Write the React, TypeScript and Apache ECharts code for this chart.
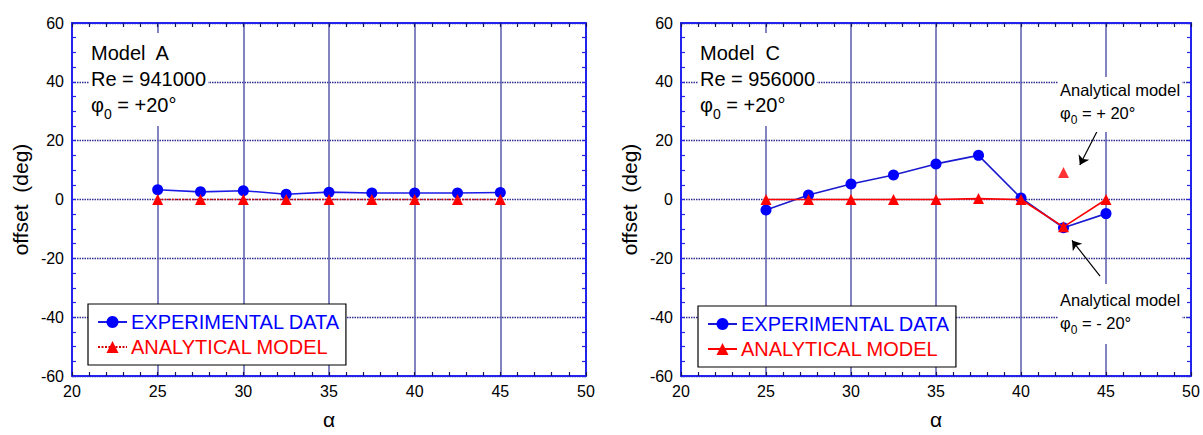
import React, { useEffect, useRef } from "react";
import * as echarts from "echarts";

const FONT = "'Liberation Sans', Arial, Helvetica, sans-serif";

// x values (angle of attack, alpha)
const alpha = [25, 27.5, 30, 32.5, 35, 37.5, 40, 42.5, 45];
// Model A
const expA = [3.3, 2.6, 3.0, 1.8, 2.5, 2.2, 2.2, 2.2, 2.4];
const modelA = [0, 0, 0, 0, 0, 0, 0, 0, 0];
// Model C
const expC = [-3.6, 1.5, 5.3, 8.3, 12.1, 15.0, 0.5, -9.6, -4.8];
const modelC = [0, 0, 0, 0, 0, 0.3, 0, -9.3, 0];
const modelCPlusAlpha = [42.5];
const modelCPlus = [9.2];

// annotation arrows (data space): [from, to]
const arrowUp = [[44.63, 24.9], [43.46, 11.7]];
const arrowDown = [[44.65, -26.05], [43.0, -13.9]];

const xTicks = { min: 20, max: 50, interval: 5 };
const yTicks = { min: -60, max: 60, interval: 20 };

const LEG_EXP = "EXPERIMENTAL DATA";
const LEG_MOD = "ANALYTICAL MODEL";

const BLUE = "#0000ff";
const RED = "#ff0000";
const BORDER = "#2323ee";

function pairs(xs: number[], ys: number[]) {
  return xs.map((x, i) => [x, ys[i]]);
}

function xAxisDef(gridIndex: number, position: "bottom" | "top") {
  const bottom = position === "bottom";
  return {
    type: "value",
    gridIndex,
    position,
    min: xTicks.min,
    max: xTicks.max,
    interval: xTicks.interval,
    axisLine: { show: true, onZero: false, lineStyle: { color: BORDER, width: 2 } },
    axisTick: { show: true, inside: true, length: 4, lineStyle: { color: "#15155a", width: 1.2 } },
    minorTick: { show: true, splitNumber: 5, length: 4, lineStyle: { color: "#15155a", width: 1.2 } },
    splitLine: bottom ? { show: true, lineStyle: { color: "#5a5aae", width: 1.5, type: "solid" } } : { show: false },
    axisLabel: bottom
      ? { show: true, fontSize: 16, color: "#000", margin: 7, fontFamily: FONT }
      : { show: false },
    name: bottom ? "α" : "",
    nameLocation: "middle",
    nameGap: 33,
    nameTextStyle: { fontSize: 21, color: "#000", fontFamily: FONT },
  };
}

function yAxisDef(gridIndex: number, position: "left" | "right") {
  const left = position === "left";
  return {
    type: "value",
    gridIndex,
    position,
    min: yTicks.min,
    max: yTicks.max,
    interval: yTicks.interval,
    axisLine: { show: true, onZero: false, lineStyle: { color: BORDER, width: 2 } },
    axisTick: { show: true, inside: true, length: 4, lineStyle: { color: BORDER, width: 1.2 } },
    minorTick: { show: true, splitNumber: 4, length: 4, lineStyle: { color: BORDER, width: 1.2 } },
    splitLine: left
      ? { show: true, lineStyle: { color: "#2d2d90", width: 1.4, type: [1.5, 1] } }
      : { show: false },
    axisLabel: left
      ? { show: true, fontSize: 16, color: "#000", margin: 8, fontFamily: FONT }
      : { show: false },
    name: left ? "offset  (deg)" : "",
    nameLocation: "middle",
    nameGap: 41,
    nameTextStyle: { fontSize: 21, color: "#000", fontFamily: FONT },
  };
}

function legendDef(left: number, top: number, suffix: string) {
  return {
    orient: "vertical",
    left,
    top,
    selectedMode: false,
    itemWidth: 29,
    itemHeight: 15,
    itemGap: 5,
    padding: [8, 6, 8, 9],
    borderColor: "#000",
    borderWidth: 1.2,
    backgroundColor: "#fff",
    formatter: (n: string) => n.split("|")[0],
    textStyle: { fontSize: 20, lineHeight: 20, fontFamily: FONT, padding: [0, 0, 0, -1] },
    data: [
      { name: LEG_EXP + "|" + suffix, textStyle: { color: BLUE } },
      { name: LEG_MOD + "|" + suffix, textStyle: { color: RED } },
    ],
  };
}

function note(x: number, y: number, lines: string[], size: number, lh: number, sub: number, pad: number[]) {
  const rich: any = {
    m: { fontSize: size, lineHeight: lh, fontFamily: FONT, fill: "#000" },
    s: { fontSize: sub, lineHeight: 8, fontFamily: FONT, fill: "#000", padding: [Math.round(size * 0.85), 0, 0, 0] },
  };
  return {
    type: "text",
    x,
    y,
    z: 100,
    style: {
      text: lines.join("\n"),
      rich,
      backgroundColor: "#fff",
      padding: pad,
    },
  };
}

export default function App() {
  const ref = useRef<HTMLDivElement>(null);
  useEffect(() => {
    if (!ref.current) return;
    const chart = echarts.init(ref.current, undefined, { renderer: "svg" });
    const option: any = {
      animation: false,
      backgroundColor: "#fff",
      textStyle: { fontFamily: FONT },
      grid: [
        { left: 72, top: 23, width: 514, height: 356 },
        { left: 681, top: 23, width: 510, height: 356 },
      ],
      xAxis: [xAxisDef(0, "bottom"), xAxisDef(0, "top"), xAxisDef(1, "bottom"), xAxisDef(1, "top")],
      yAxis: [yAxisDef(0, "left"), yAxisDef(0, "right"), yAxisDef(1, "left"), yAxisDef(1, "right")],
      legend: [legendDef(88, 304, "A"), legendDef(698, 306, "C")],
      series: [
        {
          type: "line",
          name: LEG_EXP + "|A",
          xAxisIndex: 0,
          yAxisIndex: 0,
          data: pairs(alpha, expA),
          symbol: "circle",
          symbolSize: 11,
          itemStyle: { color: BLUE },
          lineStyle: { color: "#1a1ae6", width: 1.6 },
          z: 3,
        },
        {
          type: "line",
          name: LEG_MOD + "|A",
          xAxisIndex: 0,
          yAxisIndex: 0,
          data: pairs(alpha, modelA),
          symbol: "triangle",
          symbolSize: 11,
          itemStyle: { color: RED },
          lineStyle: { color: "#d40000", width: 1.6, type: [2, 1.5] },
          z: 4,
        },
        {
          type: "line",
          name: LEG_EXP + "|C",
          xAxisIndex: 2,
          yAxisIndex: 2,
          data: pairs(alpha, expC),
          symbol: "circle",
          symbolSize: 11,
          itemStyle: { color: BLUE },
          lineStyle: { color: "#1a1ad0", width: 1.6 },
          z: 3,
        },
        {
          type: "line",
          name: LEG_MOD + "|C",
          xAxisIndex: 2,
          yAxisIndex: 2,
          data: pairs(alpha, modelC),
          symbol: "triangle",
          symbolSize: 11,
          itemStyle: { color: RED },
          lineStyle: { color: RED, width: 1.6 },
          z: 4,
        },
        {
          type: "scatter",
          name: "Analytical model +20",
          xAxisIndex: 2,
          yAxisIndex: 2,
          data: pairs(modelCPlusAlpha, modelCPlus),
          symbol: "triangle",
          symbolSize: 11,
          itemStyle: { color: RED },
          z: 4,
          markLine: {
            silent: true,
            symbol: ["none", "arrow"],
            symbolSize: 9,
            label: { show: false },
            lineStyle: { color: "#000", width: 1.2, type: "solid" },
            data: [
              [{ coord: arrowUp[0] }, { coord: arrowUp[1] }],
              [{ coord: arrowDown[0] }, { coord: arrowDown[1] }],
            ],
          },
        },
      ],
      graphic: [
        note(89, 33, ["{m|Model  A}", "{m|Re = 941000}", "{m|φ}{s|0}{m| = +20°}"], 20, 26, 14, [7, 2, 8, 2]),
        note(698, 33, ["{m|Model  C}", "{m|Re = 956000}", "{m|φ}{s|0}{m| = +20°}"], 20, 26, 14, [7, 2, 8, 2]),
        note(1058, 77, ["{m|Analytical model}", "{m|φ}{s|0}{m| = + 20°}"], 16.5, 23, 12, [1, 2, 8, 2]),
        note(1058, 284, ["{m|Analytical model}", "{m|φ}{s|0}{m| = - 20°}"], 16.5, 23, 12, [4, 2, 10, 2]),
      ],
    };
    chart.setOption(option);
    return () => chart.dispose();
  }, []);
  return (
    <div
      ref={ref}
      style={{ position: "fixed", left: 0, top: 0, width: 1203, height: 435, background: "#fff" }}
    />
  );
}
